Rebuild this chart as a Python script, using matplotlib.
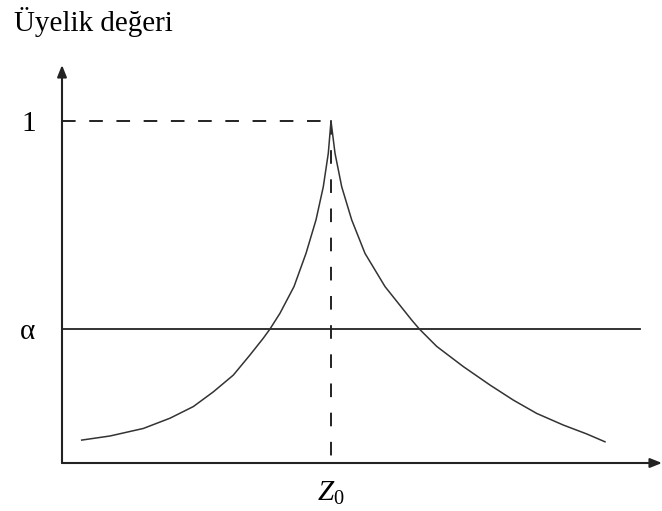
import matplotlib
matplotlib.use("Agg")
import matplotlib.pyplot as plt

plt.rcParams['font.family'] = ['Liberation Serif', 'DejaVu Serif']
plt.rcParams['mathtext.fontset'] = 'custom'
plt.rcParams['mathtext.rm'] = 'Liberation Serif'
plt.rcParams['mathtext.it'] = 'Liberation Serif:italic'

# membership curve (x in arbitrary units, y = membership)
left_x = [19.7, 48, 81.3, 108, 131.3, 151.3, 171.3, 188, 201.3, 208, 218,
          232, 244, 254, 261.3, 266.3, 269]
left_y = [0.067, 0.079, 0.101, 0.131, 0.165, 0.208, 0.257, 0.316, 0.365, 0.392, 0.438,
          0.516, 0.613, 0.711, 0.808, 0.906, 1.0]
right_x = [269, 273, 279.7, 289.7, 303, 323, 349.7, 357.3, 374.7, 401.3,
           428, 451.3, 474.7, 501.3, 524.7, 543]
right_y = [1.0, 0.906, 0.808, 0.711, 0.613, 0.516, 0.418, 0.392, 0.341, 0.282,
           0.228, 0.184, 0.145, 0.111, 0.085, 0.062]

z0 = 269
alpha = 0.392
alpha_end = 578
x_max = 600
y_max = 1.164

ink = '#222222'

fig = plt.figure(figsize=(6.62, 5.11), dpi=100)
ax = fig.add_axes([62 / 662, 48 / 511, 600 / 662, 398 / 511])
ax.set_xlim(0, x_max)
ax.set_ylim(0, y_max)
for s in ax.spines.values():
    s.set_visible(False)

# axes with arrows
arrow = dict(arrowstyle='-|>,head_length=0.7,head_width=0.28', lw=1.5,
             color=ink, shrinkA=0, shrinkB=0)
ax.annotate('', xy=(0, y_max), xytext=(0, 0), arrowprops=arrow, annotation_clip=False)
ax.annotate('', xy=(x_max, 0), xytext=(0, 0), arrowprops=arrow, annotation_clip=False)

# helper lines
ax.plot([0, z0], [1, 1], color=ink, lw=1.4, ls=(0, (7, 7)), dash_capstyle='butt')
ax.plot([z0, z0], [1, 0], color=ink, lw=1.4, ls=(0, (7, 8)), dash_capstyle='butt')
ax.plot([0, alpha_end], [alpha, alpha], color=ink, lw=1.3)

# curve
ax.plot(left_x, left_y, color='#333333', lw=1.1)
ax.plot(right_x, right_y, color='#333333', lw=1.1)

ax.set_yticks([alpha, 1], ['α', '1'])
ax.set_xticks([z0], [r'$\mathit{Z}_{\mathit{0}}$'])
ax.tick_params(length=0, labelsize=21, colors='black')
ax.tick_params(axis='y', pad=19)
ax.tick_params(axis='x', pad=12)

fig.text(14 / 662, 1 - 31 / 511, 'Üyelik değeri', fontsize=21, ha='left', va='baseline')

fig.savefig('out.png', dpi=100)
